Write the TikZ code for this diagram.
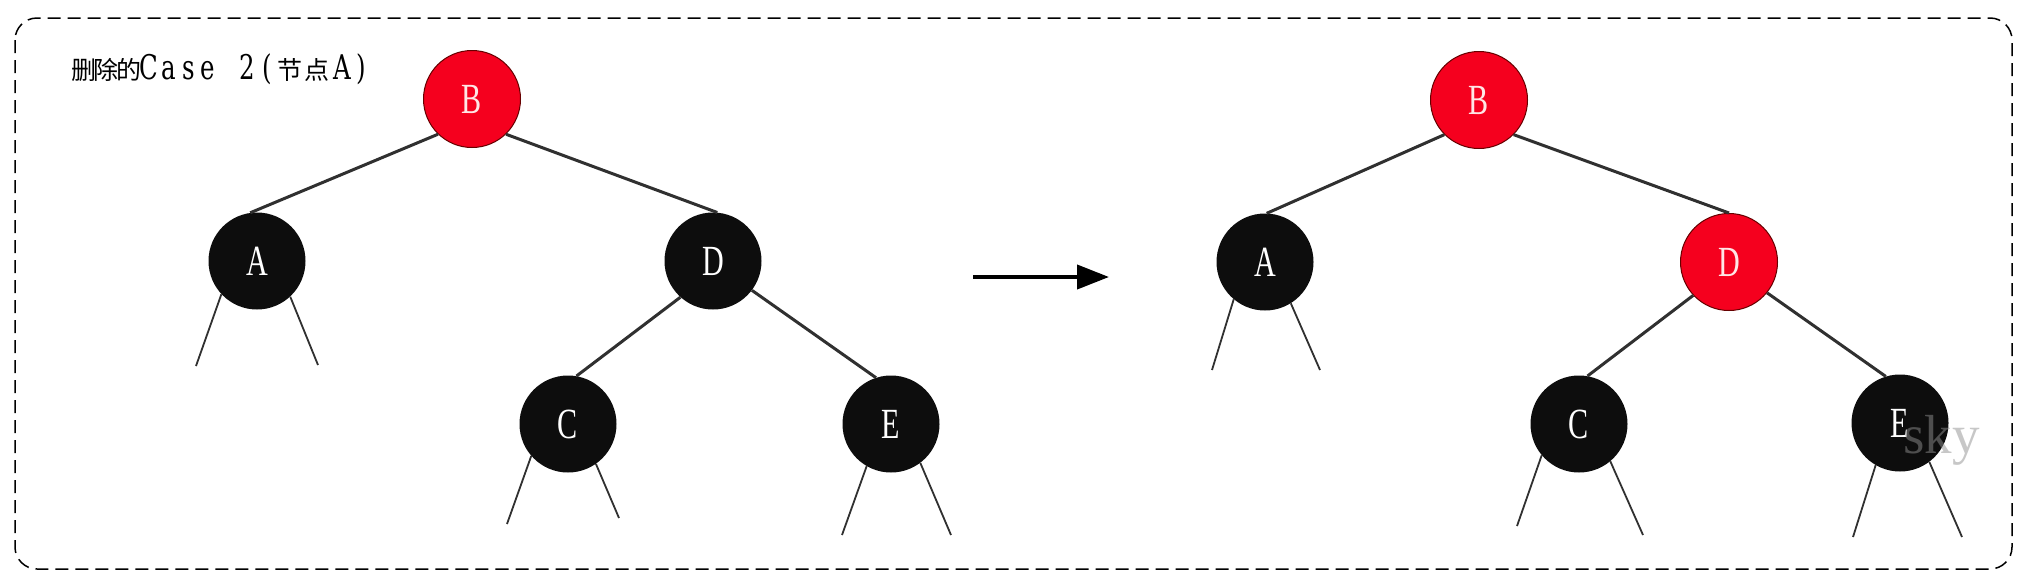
\documentclass[tikz,border=0pt]{standalone}
\usepackage{fontspec}
\usetikzlibrary{arrows.meta}
\newfontfamily\cjkf{Noto Sans CJK SC}
\newfontfamily\latf[FakeStretch=0.7]{Liberation Serif}
\newfontfamily\ttlf[FakeStretch=0.72]{DejaVu Serif}
\newfontfamily\wmf{Liberation Serif}
\newcommand\mch[1]{\makebox[19.7pt]{#1}}
\newcommand\cch[2]{\makebox[#1pt][l]{#2}}
\definecolor{rbred}{HTML}{F5001E}
\definecolor{nodeblack}{HTML}{0D0D0D}
\definecolor{edgegray}{HTML}{303030}
\definecolor{pinktext}{HTML}{FFE6E6}
\tikzset{
  rbnode/.style={circle, minimum size=97pt, inner sep=0pt, font=\latf\fontsize{43}{43}\selectfont},
  rednode/.style={rbnode, fill=rbred, draw=black!60!red, line width=1pt, text=pinktext},
  blacknode/.style={rbnode, fill=nodeblack, text=white},
  treeedge/.style={line width=3pt, draw=edgegray},
  leafedge/.style={line width=1.8pt, draw=edgegray},
}
\begin{document}
\begin{tikzpicture}[x=1pt,y=-1pt]
\useasboundingbox (0,0) rectangle (2026,584);
\draw[dash pattern=on 13pt off 7pt, line width=1.5pt, rounded corners=22pt] (15,18) rectangle (2012,569);
\node[anchor=base west, inner sep=0pt] (title) at (71,79)
  {{\cjkf\fontsize{25}{25}\selectfont\cch{22.7}{删}\cch{22.7}{除}\cch{22.7}{的}}{\ttlf\fontsize{34}{34}\selectfont\mch{C}\mch{a}\mch{s}\mch{e}\mch{ }\mch{2}\mch{(}}{\cjkf\fontsize{25}{25}\selectfont\cch{27.5}{节}\cch{27.5}{点}}{\ttlf\fontsize{34}{34}\selectfont\mch{A}\mch{)}}};
% left tree
\node[rednode] (B1) at (472,99) {B};
\node[blacknode] (A1) at (257,261) {A};
\node[blacknode] (D1) at (713,261) {D};
\node[blacknode] (C1) at (568,424) {C};
\node[blacknode] (E1) at (891,424) {E};
\draw[treeedge] (B1.226) -- (A1.98);
\draw[treeedge] (B1.314) -- (D1.85);
\draw[treeedge] (D1.228) -- (C1.80);
\draw[treeedge] (D1.323) -- (E1.108);
\coordinate (a1l) at (196,366);
\coordinate (a1r) at (318,365);
\coordinate (c1l) at (507,524);
\coordinate (c1r) at (619,518);
\coordinate (e1l) at (842,535);
\coordinate (e1r) at (951,535);
\draw[leafedge] (A1.223) -- (a1l);
\draw[leafedge] (A1.313) -- (a1r);
\draw[leafedge] (C1.221) -- (c1l);
\draw[leafedge] (C1.305) -- (c1r);
\draw[leafedge] (E1.240) -- (e1l);
\draw[leafedge] (E1.307) -- (e1r);
% arrow
\coordinate (arrS) at (973,277);
\coordinate (arrE) at (1109,277);
\draw[line width=4pt, -{Triangle[length=32pt,width=24pt]}] (arrS) -- (arrE);
% right tree
\node[rednode] (B2) at (1479,100) {B};
\node[blacknode] (A2) at (1265,262) {A};
\node[rednode] (D2) at (1729,262) {D};
\node[blacknode] (C2) at (1579,424) {C};
\node[blacknode] (E2) at (1900,423) {E};
\draw[treeedge] (B2.225) -- (A2.88);
\draw[treeedge] (B2.315) -- (D2.90);
\draw[treeedge] (D2.223) -- (C2.80);
\draw[treeedge] (D2.321) -- (E2.107);
\coordinate (a2l) at (1212,370);
\coordinate (a2r) at (1320,370);
\coordinate (c2l) at (1517,526);
\coordinate (c2r) at (1643,535);
\coordinate (e2l) at (1853,537);
\coordinate (e2r) at (1962,537);
\draw[leafedge] (A2.230) -- (a2l);
\draw[leafedge] (A2.302) -- (a2r);
\draw[leafedge] (C2.220) -- (c2l);
\draw[leafedge] (C2.310) -- (c2r);
\draw[leafedge] (E2.240) -- (e2l);
\draw[leafedge] (E2.307) -- (e2r);
% watermark
\node[anchor=base west, inner sep=0pt, text=black!44, text opacity=0.5, font=\wmf\fontsize{55}{55}\selectfont] (wm) at (1903,453) {sky};
\end{tikzpicture}
\end{document}
